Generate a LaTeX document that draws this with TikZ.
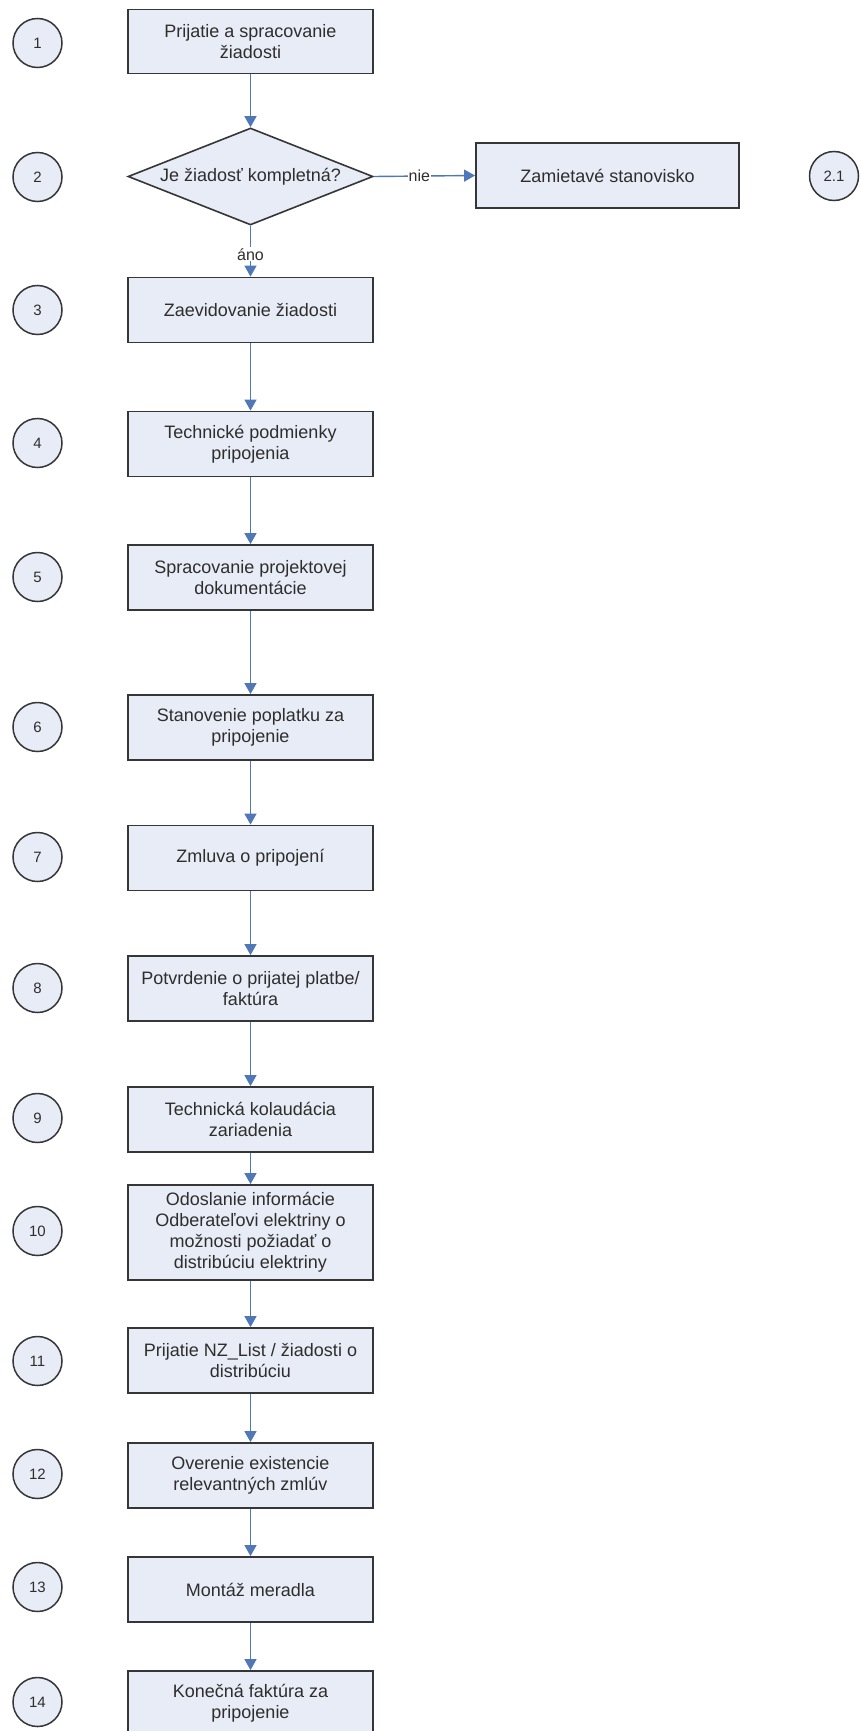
\documentclass[tikz,border=0pt]{standalone}
\usepackage{fontspec}
\setmainfont{Liberation Sans}
\usetikzlibrary{shapes.geometric,arrows.meta}
\definecolor{boxfill}{HTML}{E8ECF6}
\definecolor{edge}{HTML}{363636}
\definecolor{arrowblue}{HTML}{5077B8}
\definecolor{txt}{HTML}{2E2E2E}
\begin{document}
\begin{tikzpicture}[x=1pt,y=-1pt,
 stepbox/.style={draw=edge,fill=boxfill,line width=1.8pt,minimum width=245pt,minimum height=65pt,inner sep=2pt,align=center,font=\fontsize{18}{21}\selectfont,text=txt},
 decbox/.style={diamond,draw=edge,fill=boxfill,line width=1.6pt,minimum width=245pt,minimum height=97pt,inner sep=0pt,aspect=2.5,font=\fontsize{18}{21}\selectfont,text=txt},
 numcirc/.style={circle,draw=edge,fill=boxfill,line width=1.5pt,minimum size=49pt,inner sep=0pt,font=\fontsize{15}{18}\selectfont,text=txt},
 flow/.style={draw=arrowblue,line width=1.4pt,-{Triangle[width=12pt,length=11pt]}},
 lbl/.style={fill=white,inner sep=1pt,font=\fontsize{16}{18}\selectfont,text=txt}]
\useasboundingbox (0,0) rectangle (861,1731);
\clip (0,0) rectangle (861,1731);
\fill[white] (0,0) rectangle (861,1731);

% numbered circles
\node[numcirc] (c1)  at (37.5,43)   {1};
\node[numcirc] (c2)  at (37.5,177)  {2};
\node[numcirc] (c21) at (834,176)   {2.1};
\node[numcirc] (c3)  at (37.5,310)  {3};
\node[numcirc] (c4)  at (37.5,443)  {4};
\node[numcirc] (c5)  at (37.5,577)  {5};
\node[numcirc] (c6)  at (37.5,727)  {6};
\node[numcirc] (c7)  at (37.5,857)  {7};
\node[numcirc] (c8)  at (37.5,988)  {8};
\node[numcirc] (c9)  at (37.5,1118) {9};
\node[numcirc] (c10) at (37.5,1231) {10};
\node[numcirc] (c11) at (37.5,1361) {11};
\node[numcirc] (c12) at (37.5,1474) {12};
\node[numcirc] (c13) at (37.5,1587) {13};
\node[numcirc] (c14) at (37.5,1702) {14};

% process steps
\node[stepbox,minimum height=64pt] (b1) at (250.5,41.5) {Prijatie a spracovanie\\žiadosti};
\node[decbox] (d2) at (250.5,176.5) {Je žiadosť kompletná?};
\node[stepbox,minimum width=263pt] (b21) at (607.5,175.5) {Zamietavé stanovisko};
\node[stepbox] (b3)  at (250.5,310)    {Zaevidovanie žiadosti};
\node[stepbox] (b4)  at (250.5,444)    {Technické podmienky\\pripojenia};
\node[stepbox] (b5)  at (250.5,577.5)  {Spracovanie projektovej\\dokumentácie};
\node[stepbox] (b6)  at (250.5,727.5)  {Stanovenie poplatku za\\pripojenie};
\node[stepbox] (b7)  at (250.5,858)    {Zmluva o pripojení};
\node[stepbox] (b8)  at (250.5,988.5)  {Potvrdenie o prijatej platbe/\\faktúra};
\node[stepbox] (b9)  at (250.5,1119.5) {Technická kolaudácia\\zariadenia};
\node[stepbox,minimum height=95pt] (b10) at (250.5,1232.5) {Odoslanie informácie\\Odberateľovi elektriny o\\možnosti požiadať o\\distribúciu elektriny};
\node[stepbox] (b11) at (250.5,1360.5) {Prijatie NZ\_List / žiadosti o\\distribúciu};
\node[stepbox] (b12) at (250.5,1475.5) {Overenie existencie\\relevantných zmlúv};
\node[stepbox] (b13) at (250.5,1589.5) {Montáž meradla};
\node[stepbox] (b14) at (250.5,1703.5) {Konečná faktúra za\\pripojenie};

% connectors
\draw[flow] (b1) -- (d2);
\draw[flow] (d2.east) -- node[lbl,pos=0.45] {nie} (b21.west);
\draw[flow] (d2.south) -- node[lbl,pos=0.56] {áno} (b3.north);
\draw[flow] (b3) -- (b4);
\draw[flow] (b4) -- (b5);
\draw[flow] (b5) -- (b6);
\draw[flow] (b6) -- (b7);
\draw[flow] (b7) -- (b8);
\draw[flow] (b8) -- (b9);
\draw[flow] (b9) -- (b10);
\draw[flow] (b10) -- (b11);
\draw[flow] (b11) -- (b12);
\draw[flow] (b12) -- (b13);
\draw[flow] (b13) -- (b14);
\end{tikzpicture}
\end{document}
